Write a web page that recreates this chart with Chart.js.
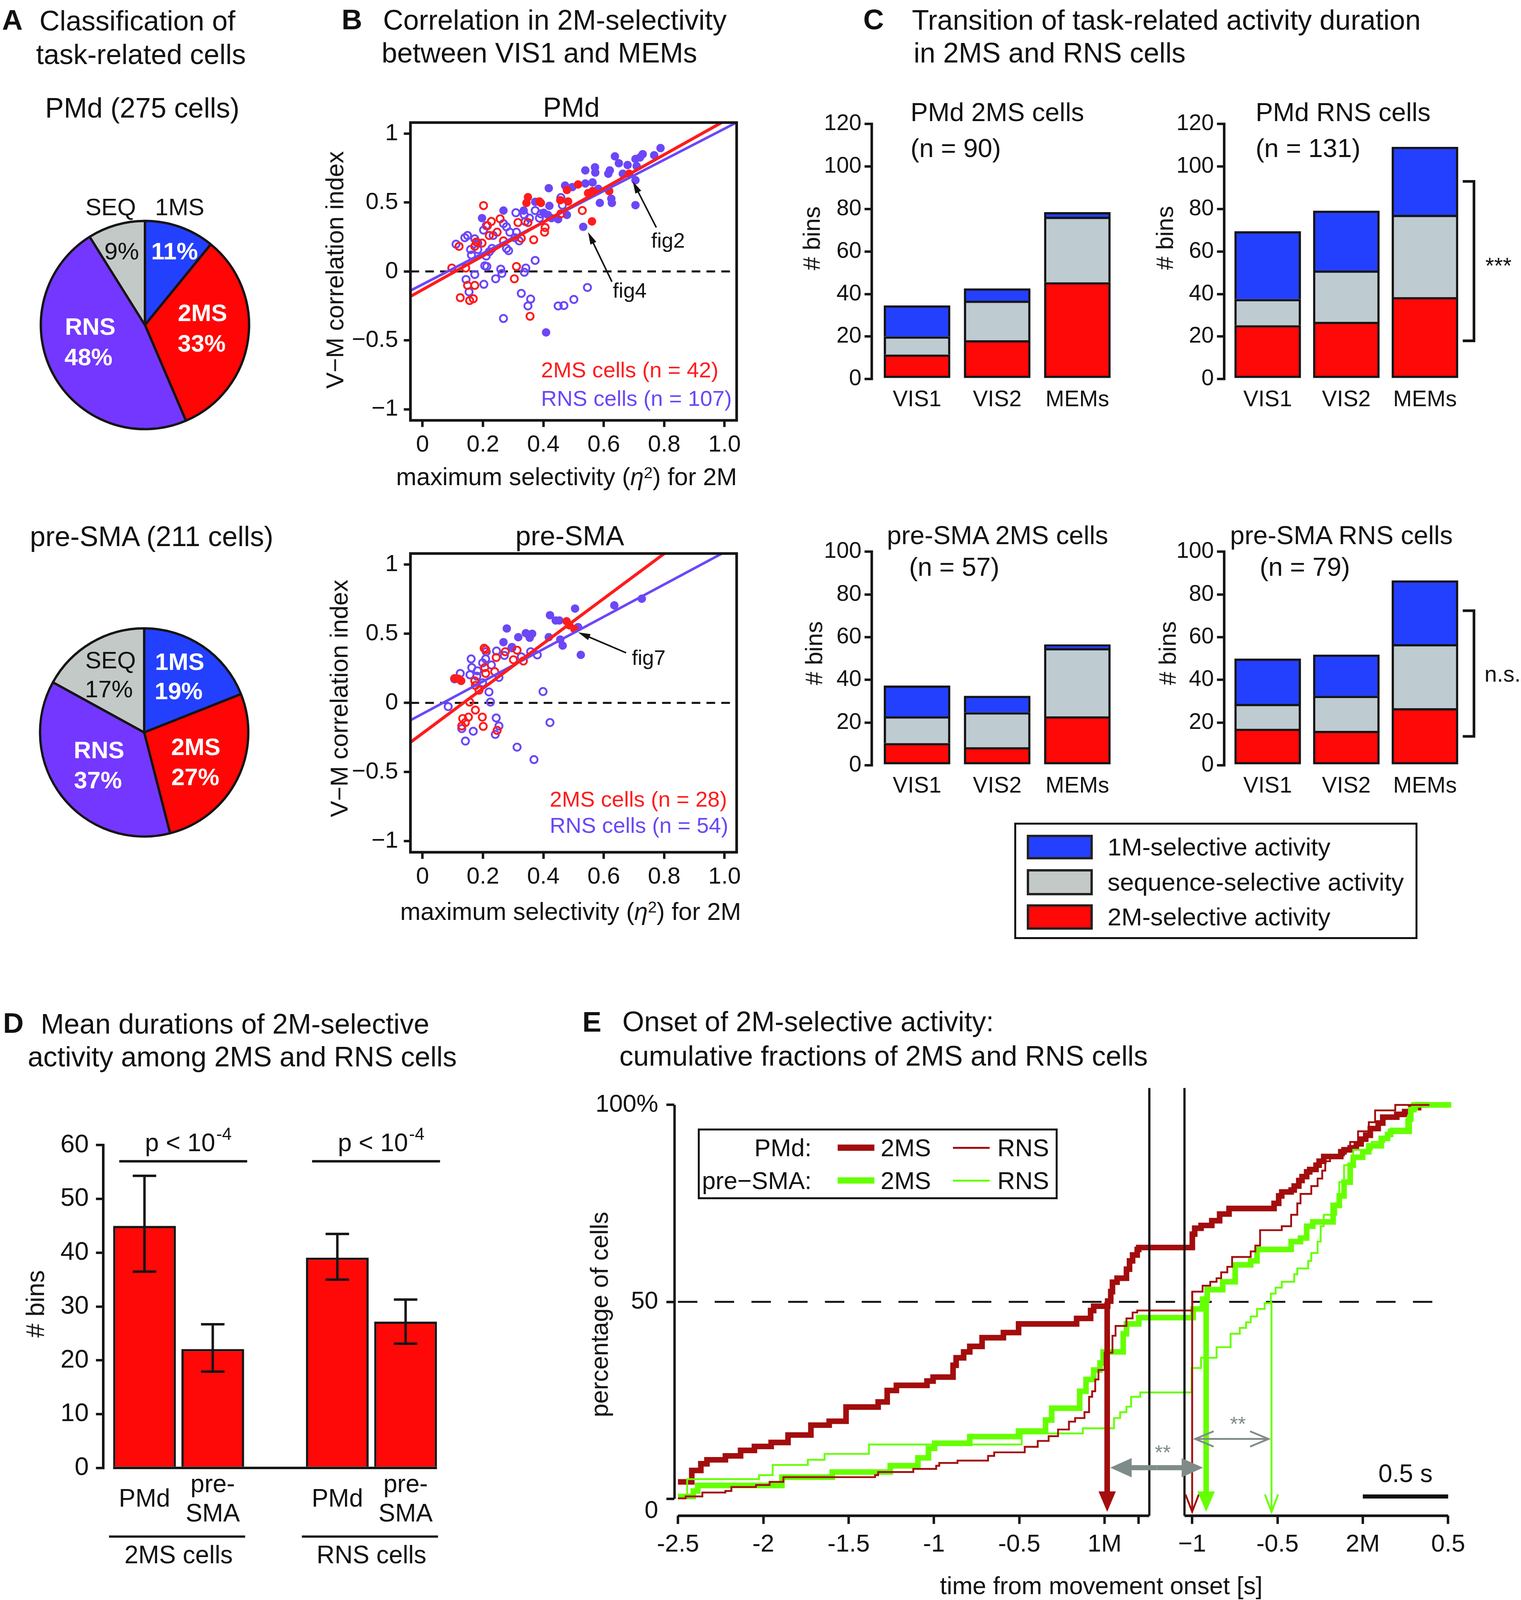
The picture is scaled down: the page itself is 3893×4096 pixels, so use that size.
<!DOCTYPE html>
<html>
<head>
<meta charset="utf-8">
<title>Task-related activity in PMd and pre-SMA</title>
<script src="https://cdn.jsdelivr.net/npm/chart.js@4.4.1/dist/chart.umd.min.js"></script>
<style>
  html, body { margin: 0; padding: 0; background: #fff; }
  #fig { position: relative; width: 3893px; height: 4096px; overflow: hidden; background: #fff;
         font-family: "Liberation Sans", Arial, Helvetica, sans-serif; color: #111; }
  #fig .t { position: absolute; white-space: nowrap; line-height: 1; }
  #fig .sup { position: relative; top: -0.45em; font-size: 0.65em; }
  #fig canvas { position: absolute; }
  #fig .bx { position: absolute; box-sizing: border-box; }
</style>
</head>
<body>
<div id="fig"></div>
<script>
// layout is written in the coordinates of the 1490 px preview; K scales it to the window
const K = 3893 / 1490;
const FONT = '"Liberation Sans", Arial, Helvetica, sans-serif';

// ---------- A: classification of task-related cells (%) ----------
const pieClasses = ['1MS', '2MS', 'RNS', 'SEQ'];
const piePmd = [11, 33, 48, 9];
const piePre = [19, 27, 37, 17];

// ---------- B: V-M correlation index vs max selectivity for 2M, [eta2, index] ----------
const pmd2msSig = [[0.684,0.709],[0.515,0.631],[0.478,0.591],[0.548,0.568],[0.563,0.583],[0.618,0.583],[0.482,0.508],
  [0.456,0.517],[0.349,0.539],[0.344,0.497],[0.387,0.508],[0.392,0.497],[0.561,0.363]];
const pmd2msOpen = [[0.202,0.478],[0.257,0.382],[0.228,0.363],[0.215,0.332],[0.316,0.355],[0.349,0.355],[0.247,0.285],
  [0.221,0.261],[0.197,0.206],[0.173,0.182],[0.121,0.182],[0.268,0.222],[0.327,0.241],[0.368,0.230],[0.404,0.285],
  [0.406,0.319],[0.458,0.418],[0.529,0.442],[0.097,0.025],[0.143,0.025],[0.311,0.036],[0.304,-0.053],[0.149,-0.101],
  [0.173,-0.101],[0.125,-0.190],[0.156,-0.211],[0.168,-0.198],[0.356,-0.325],[0.178,0.214]];
const pmdRnsSig = [[0.788,0.895],[0.767,0.843],[0.729,0.851],[0.720,0.827],[0.705,0.816],[0.637,0.835],[0.650,0.785],
  [0.679,0.772],[0.709,0.764],[0.620,0.733],[0.615,0.709],[0.571,0.756],[0.572,0.717],[0.539,0.733],[0.663,0.709],
  [0.705,0.662],[0.563,0.646],[0.539,0.638],[0.472,0.623],[0.496,0.612],[0.418,0.604],[0.582,0.599],[0.587,0.497],
  [0.625,0.528],[0.627,0.497],[0.705,0.481],[0.373,0.505],[0.420,0.476],[0.268,0.442],[0.335,0.442],[0.401,0.426],
  [0.415,0.410],[0.197,0.387],[0.449,0.379],[0.478,0.410],[0.427,0.387],[0.532,0.324],[0.409,-0.442]];
const pmdRnsOpen = [[0.111,0.198],[0.140,0.245],[0.149,0.261],[0.173,0.237],[0.183,0.206],[0.159,0.159],[0.162,0.119],
  [0.202,0.300],[0.211,0.332],[0.230,0.167],[0.211,0.112],[0.206,0.041],[0.213,0.036],[0.173,-0.022],[0.144,-0.058],
  [0.203,-0.093],[0.154,-0.148],[0.259,0.017],[0.263,-0.014],[0.242,-0.053],[0.278,0.167],[0.285,0.151],[0.268,0.347],
  [0.278,0.324],[0.289,0.285],[0.311,0.285],[0.309,0.426],[0.337,0.410],[0.354,0.387],[0.340,0.363],[0.373,0.442],
  [0.392,0.418],[0.387,0.387],[0.342,0.025],[0.337,-0.006],[0.373,0.080],[0.327,-0.159],[0.358,-0.200],[0.349,-0.250],
  [0.449,-0.250],[0.468,-0.247],[0.501,-0.203],[0.546,-0.116],[0.268,-0.341],[0.458,0.536],[0.463,0.481],[0.306,0.245],
  [0.234,0.261],[0.183,0.159],[0.221,0.143],[0.320,0.222]];
const pre2msSig = [[0.477,0.590],[0.486,0.561],[0.503,0.534],[0.106,0.178],[0.119,0.174],[0.128,0.159]];
const pre2msOpen = [[0.204,0.395],[0.244,0.328],[0.274,0.370],[0.313,0.381],[0.301,0.312],[0.334,0.303],[0.206,0.255],
  [0.209,0.213],[0.239,0.226],[0.173,0.159],[0.175,0.126],[0.187,0.092],[0.156,0.006],[0.175,-0.052],[0.152,-0.103],
  [0.133,-0.113],[0.142,-0.142],[0.130,-0.167],[0.198,-0.103],[0.201,-0.170],[0.247,-0.199],[0.209,0.385]];
const preRnsSig = [[0.726,0.753],[0.635,0.705],[0.505,0.682],[0.422,0.634],[0.441,0.596],[0.453,0.596],[0.515,0.548],
  [0.342,0.504],[0.363,0.500],[0.355,0.471],[0.279,0.538],[0.317,0.475],[0.418,0.475],[0.456,0.458],[0.464,0.414],
  [0.268,0.439],[0.524,0.347],[0.296,0.404]];
const preRnsOpen = [[0.125,0.213],[0.161,0.318],[0.163,0.255],[0.157,0.203],[0.180,0.193],[0.199,0.289],[0.209,0.318],
  [0.211,0.370],[0.228,0.274],[0.245,0.375],[0.271,0.343],[0.296,0.398],[0.327,0.333],[0.358,0.370],[0.380,0.347],
  [0.253,0.184],[0.220,0.079],[0.225,0.006],[0.199,0.146],[0.085,-0.027],[0.399,0.082],[0.244,-0.109],[0.253,-0.167],
  [0.241,-0.228],[0.130,-0.186],[0.168,-0.205],[0.142,-0.276],[0.313,-0.320],[0.369,-0.410],[0.422,-0.142],[0.182,0.232],
  [0.106,0.174]];
// regression lines, end points at the x limits
const pmdFit2ms = [[-0.04,-0.181],[1.04,1.141]];
const pmdFitRns = [[-0.04,-0.139],[1.04,1.081]];
const preFit2ms = [[-0.04,-0.285],[1.04,1.469]];
const preFitRns = [[-0.04,-0.126],[1.04,1.137]];
const pmdNotes = [{label:'fig2', at:[0.813,0.214], from:[0.774,0.319], to:[0.696,0.654]},
                  {label:'fig4', at:[0.686,-0.148], from:[0.627,-0.074], to:[0.548,0.285]}];
const preNotes = [{label:'fig7', at:[0.749,0.318], from:[0.674,0.362], to:[0.515,0.510]}];
const bTicksX = [0, 0.2, 0.4, 0.6, 0.8, 1.0];
const bTickLabelsX = ['0', '0.2', '0.4', '0.6', '0.8', '1.0'];
const bTicksY = [-1, -0.5, 0, 0.5, 1];
const bTickLabelsY = ['\u22121', '\u22120.5', '0', '0.5', '1'];

// ---------- C: task-related activity duration (# bins) ----------
const cPhases = ['VIS1', 'VIS2', 'MEMs'];
const cPmd2msRed = [11.5, 18.2, 45.5], cPmd2msGray = [8.5, 18.6, 30.8], cPmd2msBlue = [14.6, 5.8, 2.2];
const cPmdRnsRed = [25.3, 26.9, 38.5], cPmdRnsGray = [12.3, 24.1, 38.7], cPmdRnsBlue = [31.9, 28.2, 32.0];
const cPre2msRed = [10.4, 8.5, 22.9], cPre2msGray = [12.5, 16.3, 31.9], cPre2msBlue = [14.4, 7.7, 1.8];
const cPreRnsRed = [17.1, 16.1, 26.7], cPreRnsGray = [11.6, 16.4, 30.0], cPreRnsBlue = [21.2, 19.3, 29.8];
const cBracketPmd = [18, 93], cBracketPre = [13.6, 72.4];
const cTicksTop = [0, 20, 40, 60, 80, 100, 120];
const cTicksBottom = [0, 20, 40, 60, 80, 100];
const cLegend = ['1M-selective activity', 'sequence-selective activity', '2M-selective activity'];

// ---------- D: mean durations of 2M-selective activity ----------
const dGroups = ['2MS cells', 'RNS cells'];
const dAreaLines = [['PMd'], ['pre-', 'SMA']];
const dPmdMean = [45.0, 39.1];
const dPreMean = [22.1, 27.2];
const dPmdErr = [[36.5, 54.3], [35.0, 43.5]];
const dPreErr = [[17.9, 26.7], [23.1, 31.3]];
const dTicks = [0, 10, 20, 30, 40, 50, 60];
const dSigText = ['p < 10', '-4'];

// ---------- E: onset of 2M-selective activity, cumulative % of cells ----------
// [time, % reached at that time]; seg1 times from 1M onset, seg2 times from 2M onset
const pmd2msSeg1 = [[-2.5,4.3],[-2.419,7.2],[-2.366,8.9],[-2.33,9.9],[-2.222,10.9],[-2.133,12.3],[-2.052,13.3],[-1.954,14.3],
  [-1.855,16.2],[-1.721,18.7],[-1.614,19.7],[-1.515,23.3],[-1.327,24.6],[-1.274,27.5],[-1.22,28.8],[-1.041,29.9],
  [-1.005,30.9],[-0.888,33.9],[-0.87,35.8],[-0.826,37.3],[-0.79,38.7],[-0.718,40.9],[-0.593,42.2],[-0.504,44.4],
  [-0.164,45.8],[-0.082,47.8],[-0.064,48.9],[0.018,50.2],[0.036,52.6],[0.046,55.0],[0.073,56.0],[0.128,58.3],
  [0.146,60.4],[0.164,61.9],[0.191,63.3],[0.2,63.8]];
const pmd2msSeg2 = [[-0.999,67.2],[-0.985,68.7],[-0.948,69.4],[-0.885,70.6],[-0.839,72.3],[-0.784,73.7],[-0.52,75.0],
  [-0.493,76.9],[-0.475,77.9],[-0.42,78.4],[-0.402,79.4],[-0.375,80.8],[-0.356,81.8],[-0.329,83.0],[-0.311,83.6],
  [-0.274,84.7],[-0.256,85.7],[-0.229,86.9],[-0.129,88.1],[-0.11,88.6],[-0.074,89.1],[-0.038,90.1],[-0.01,91.3],
  [0.017,92.3],[0.044,94.0],[0.09,95.4],[0.117,96.9],[0.199,97.6],[0.245,98.3],[0.281,99.3],[0.327,100],[0.39,100]];
const pmdRnsSeg1 = [[-2.5,0.1],[-2.455,0.6],[-2.357,1.6],[-2.222,2.0],[-2.187,3.0],[-2.043,3.5],[-1.963,4.3],[-1.882,5.5],
  [-1.345,6.0],[-1.327,6.8],[-1.121,7.6],[-0.987,8.4],[-0.969,9.1],[-0.862,9.7],[-0.683,10.9],[-0.647,11.8],
  [-0.468,13.2],[-0.392,14.7],[-0.328,15.9],[-0.273,17.6],[-0.209,19.6],[-0.173,20.5],[-0.118,22.0],[-0.091,25.9],
  [-0.073,27.3],[-0.055,30.3],[-0.036,32.7],[0.0,37.1],[0.046,41.4],[0.064,43.9],[0.128,45.8],[0.164,47.3],[0.191,47.8]];
const pmdRnsSeg2 = [[-0.999,52.6],[-0.939,54.1],[-0.894,55.1],[-0.857,56.0],[-0.83,57.5],[-0.794,58.9],[-0.766,61.4],
  [-0.657,62.8],[-0.63,64.3],[-0.602,68.2],[-0.475,69.2],[-0.42,72.1],[-0.384,75.0],[-0.365,77.4],[-0.302,79.4],
  [-0.265,81.3],[-0.238,83.3],[-0.22,85.7],[-0.192,87.2],[-0.11,88.6],[-0.074,90.6],[-0.028,93.3],[0.035,95.6],
  [0.072,98.6],[0.19,100],[0.39,100]];
const pre2msSeg1 = [[-2.5,0.6],[-2.41,2.0],[-2.384,3.4],[-1.891,5.5],[-1.596,6.8],[-1.256,8.4],[-1.094,10.4],[-1.032,12.8],
  [-0.996,14.1],[-0.79,15.8],[-0.504,17.2],[-0.346,20.0],[-0.31,23.0],[-0.146,27.3],[-0.109,30.3],[-0.064,32.7],
  [-0.027,34.5],[-0.009,37.3],[0.109,41.9],[0.128,44.4],[0.2,46.0]];
const pre2msSeg2 = [[-0.994,48.2],[-0.939,50.7],[-0.912,53.1],[-0.821,55.1],[-0.748,59.4],[-0.657,60.4],[-0.62,63.3],
  [-0.42,65.3],[-0.365,66.2],[-0.329,69.2],[-0.293,70.3],[-0.174,74.5],[-0.138,76.9],[-0.11,80.4],[-0.074,84.7],
  [-0.056,86.7],[-0.001,88.1],[0.035,89.6],[0.108,91.5],[0.145,92.5],[0.163,93.3],[0.272,96.4],[0.281,98.8],
  [0.299,100],[0.518,100]];
const preRnsSeg1 = [[-2.5,0.9],[-2.446,5.0],[-2.025,6.0],[-1.945,8.6],[-1.739,9.9],[-1.641,11.4],[-1.381,13.8],
  [-0.486,16.6],[-0.128,17.9],[0.055,20.5],[0.091,22.0],[0.128,23.4],[0.155,25.9],[0.209,27.0]];
const preRnsSeg2 = [[-1.003,33.2],[-0.948,35.8],[-0.857,38.5],[-0.775,41.9],[-0.721,43.4],[-0.684,44.8],[-0.657,46.3],
  [-0.62,48.2],[-0.575,49.7],[-0.539,52.1],[-0.511,53.6],[-0.475,55.1],[-0.402,57.0],[-0.384,58.5],[-0.32,60.4],
  [-0.302,62.4],[-0.265,65.3],[-0.247,69.2],[-0.229,72.1],[-0.156,75.0],[-0.138,80.4],[-0.11,84.7],[-0.056,88.6],
  [0.053,90.6],[0.126,92.0],[0.163,94.0],[0.254,96.4],[0.281,98.8],[0.318,100],[0.518,100]];
// time where each curve reaches 50 % (PMd 2MS, PMd RNS, pre-SMA 2MS, pre-SMA RNS)
const eMedianSeg = [1, 2, 2, 2];
const eMedianT = [0.015, -1.0, -0.918, -0.535];
const eMedianFrom = [50, 52.6, 50, 50];
const eTicksSeg1 = [-2.5, -2, -1.5, -1, -0.5, 0, 0.2];
const eTickLabelsSeg1 = ['-2.5', '-2', '-1.5', '-1', '-0.5', '1M', ''];
const eTicksSeg2 = [-1, -0.5, 0, 0.5];
const eTickLabelsSeg2 = ['\u22121', '-0.5', '2M', '0.5'];
const eYTicks = [0, 50, 100];
const eYLabels = [['', '0'], '50', '100%'];
const eBreak = [0.262, -1.045];   // end of the 1M axis, start of the 2M axis

// ---------- styles ----------
const PBLUE = '#2440FF', PRED = '#FF0505', PPURPLE = '#7437FF', PGRAY = '#C2C9C7';
const SRED = '#FF1C1C', SPURPLE = '#6B47F7';
const CBLUE = '#2440FF', CGRAY = '#BECBD1', CRED = '#FF0808', LGRAY = '#C2C9C6';
const DRED = '#A30D0D', GREEN = '#66FF00', GRAYA = '#7F8B89', INK = '#151515';
const SEG2_SHIFT = 1.513;

const fig = document.getElementById('fig');
Chart.defaults.font.family = FONT;
Chart.defaults.color = '#111';
Chart.defaults.plugins.legend.display = false;
Chart.defaults.plugins.tooltip.enabled = false;

function txt(x, y, html, size, o) {
  o = o || {};
  const d = document.createElement('div');
  d.className = 't';
  d.innerHTML = html;
  d.style.left = (x * K) + 'px';
  d.style.top = (y * K) + 'px';
  d.style.fontSize = (size * K) + 'px';
  if (o.bold) d.style.fontWeight = 'bold';
  if (o.color) d.style.color = o.color;
  const tx = o.align === 'center' ? '-50%' : (o.align === 'right' ? '-100%' : '0');
  d.style.transform = 'translate(' + tx + ',-50%)' + (o.rot ? ' rotate(' + o.rot + 'deg)' : '');
  fig.appendChild(d);
}
function block(x, y, w, h, css) {
  const d = document.createElement('div');
  d.className = 'bx';
  d.style.left = (x * K) + 'px'; d.style.top = (y * K) + 'px';
  d.style.width = (w * K) + 'px'; d.style.height = (h * K) + 'px';
  Object.assign(d.style, css || {});
  fig.appendChild(d);
}
function makeChart(box, cfg) {
  const c = document.createElement('canvas');
  c.width = Math.round((box[2] - box[0]) * K);
  c.height = Math.round((box[3] - box[1]) * K);
  c.style.left = (box[0] * K) + 'px';
  c.style.top = (box[1] * K) + 'px';
  c.style.width = c.width + 'px';
  c.style.height = c.height + 'px';
  fig.appendChild(c);
  cfg.options = Object.assign({responsive: false, animation: false, devicePixelRatio: 1, events: []}, cfg.options);
  return new Chart(c, cfg);
}
// pin the chart area to ar (preview coords) inside the canvas box
function fitArea(o, box, ar) {
  const l = (ar[0] - box[0]) * K, t = (ar[1] - box[1]) * K;
  const r = (box[2] - ar[2]) * K, b = (box[3] - ar[3]) * K;
  o.layout = {padding: {left: 0, top: t, right: r, bottom: 0}};
  o.scales.x.afterFit = s => { s.height = b; s.paddingLeft = 0; s.paddingRight = 0; };
  o.scales.y.afterFit = s => { s.width = l; s.paddingTop = 0; s.paddingBottom = 0; };
  return o;
}
function axis(min, max, vals, labels, size, pad, tick) {
  return {
    type: 'linear', min: min, max: max, offset: false,
    afterBuildTicks: s => { s.ticks = vals.map(v => ({value: v})); },
    ticks: {autoSkip: false, maxRotation: 0, minRotation: 0, padding: pad * K, color: '#111',
            font: {size: size * K}, callback: (v, i) => labels[i]},
    grid: {display: tick > 0, offset: false, drawOnChartArea: false, drawTicks: tick > 0, tickLength: tick * K,
           lineWidth: 2.4 * K, tickWidth: 2.4 * K, color: INK, tickColor: INK},
    border: {display: false}
  };
}
function line(ctx, x0, y0, x1, y1, w) {
  ctx.lineWidth = w; ctx.beginPath(); ctx.moveTo(x0, y0); ctx.lineTo(x1, y1); ctx.stroke();
}
function arrow(ctx, x0, y0, x1, y1, lw, hl, hw, filled, color) {
  const ang = Math.atan2(y1 - y0, x1 - x0);
  const bx = x1 - hl * Math.cos(ang), by = y1 - hl * Math.sin(ang);
  const px = -Math.sin(ang) * hw, py = Math.cos(ang) * hw;
  ctx.save();
  ctx.strokeStyle = color; ctx.fillStyle = color; ctx.setLineDash([]); ctx.lineCap = 'butt';
  if (filled) {
    line(ctx, x0, y0, bx + (x1 - bx) * 0.3, by + (y1 - by) * 0.3, lw);
    ctx.beginPath(); ctx.moveTo(x1, y1); ctx.lineTo(bx + px, by + py); ctx.lineTo(bx - px, by - py); ctx.closePath(); ctx.fill();
  } else {
    line(ctx, x0, y0, x1, y1, lw);
    ctx.beginPath(); ctx.moveTo(bx + px, by + py); ctx.lineTo(x1, y1); ctx.lineTo(bx - px, by - py); ctx.stroke();
  }
  ctx.restore();
}

// ---------- A: pies ----------
function piePanel(box, values) {
  return makeChart(box, {
    type: 'pie',
    data: {labels: pieClasses, datasets: [{data: values, backgroundColor: [PBLUE, PRED, PPURPLE, PGRAY],
      borderColor: INK, borderWidth: 2.3 * K}]},
    options: {radius: 102 * K, layout: {padding: 0}}
  });
}
const pieA1 = [142, 318.6], pieA2 = [141.3, 717.8];
piePanel([pieA1[0] - 108, pieA1[1] - 108, pieA1[0] + 108, pieA1[1] + 108], piePmd);
piePanel([pieA2[0] - 108, pieA2[1] - 108, pieA2[0] + 108, pieA2[1] + 108], piePre);

// ---------- B: scatter plots ----------
function bDeco(notes) {
  return {
    id: 'bDeco',
    beforeDatasetsDraw(chart) {
      const {ctx, chartArea: a, scales: {y}} = chart;
      const y0 = y.getPixelForValue(0);
      ctx.save(); ctx.strokeStyle = INK; ctx.setLineDash([8.5 * K, 6 * K]);
      line(ctx, a.left, y0, a.right, y0, 2 * K);
      ctx.restore();
    },
    afterDatasetsDraw(chart) {
      const {ctx, chartArea: a, scales: {x, y}} = chart;
      ctx.save();
      ctx.strokeStyle = INK; ctx.lineWidth = 2.6 * K;
      ctx.strokeRect(a.left, a.top, a.right - a.left, a.bottom - a.top);
      ctx.fillStyle = '#111'; ctx.font = (20.5 * K) + 'px ' + FONT;
      ctx.textAlign = 'center'; ctx.textBaseline = 'middle';
      notes.forEach(n => {
        ctx.fillText(n.label, x.getPixelForValue(n.at[0]), y.getPixelForValue(n.at[1]));
        arrow(ctx, x.getPixelForValue(n.from[0]), y.getPixelForValue(n.from[1]),
              x.getPixelForValue(n.to[0]), y.getPixelForValue(n.to[1]), 1.5 * K, 12 * K, 3.2 * K, true, '#111');
      });
      ctx.restore();
    }
  };
}
function pts(a) { return a.map(p => ({x: p[0], y: p[1]})); }
function scatterPanel(box, ar, s2Sig, s2Open, rSig, rOpen, fit2, fitR, notes) {
  const open = c => ({pointRadius: 3.5 * K, pointBorderWidth: 1.8 * K, pointBackgroundColor: 'rgba(0,0,0,0)', pointBorderColor: c});
  const full = c => ({pointRadius: 4.1 * K, pointBorderWidth: 0, pointBackgroundColor: c, pointBorderColor: c});
  const o = {scales: {x: axis(-0.04, 1.04, bTicksX, bTickLabelsX, 23, 4, 6.5),
                      y: axis(-1.08, 1.08, bTicksY, bTickLabelsY, 23, 5.5, 6.5)}};
  return makeChart(box, {
    type: 'scatter',
    data: {datasets: [
      {data: pts(fit2), showLine: true, borderColor: SRED, borderWidth: 3 * K, pointRadius: 0},
      {data: pts(fitR), showLine: true, borderColor: SPURPLE, borderWidth: 2.5 * K, pointRadius: 0},
      Object.assign({data: pts(s2Sig)}, full(SRED)),
      Object.assign({data: pts(s2Open)}, open(SRED)),
      Object.assign({data: pts(rSig)}, full(SPURPLE)),
      Object.assign({data: pts(rOpen)}, open(SPURPLE))
    ]},
    options: fitArea(o, box, ar),
    plugins: [bDeco(notes)]
  });
}
scatterPanel([340, 100, 740, 455], [402.2, 120.2, 721.8, 411.8],
  pmd2msSig, pmd2msOpen, pmdRnsSig, pmdRnsOpen, pmdFit2ms, pmdFitRns, pmdNotes);
scatterPanel([340, 520, 740, 877], [402.2, 542.2, 721.8, 834.8],
  pre2msSig, pre2msOpen, preRnsSig, preRnsOpen, preFit2ms, preFitRns, preNotes);

// ---------- C: stacked bars ----------
function cDeco(range, label, dx, dy) {
  return {
    id: 'cDeco',
    afterDatasetsDraw(chart) {
      if (!range) return;
      const {ctx, scales: {y}} = chart;
      const bar = chart.getDatasetMeta(0).data[2];
      const x0 = bar.x + bar.width / 2 + 4.5 * K, x1 = x0 + 11 * K;
      const yl = y.getPixelForValue(range[0]), yh = y.getPixelForValue(range[1]);
      ctx.save(); ctx.strokeStyle = INK; ctx.lineWidth = 2.6 * K;
      ctx.beginPath(); ctx.moveTo(x0, yh); ctx.lineTo(x1, yh); ctx.lineTo(x1, yl); ctx.lineTo(x0, yl); ctx.stroke();
      ctx.fillStyle = '#111'; ctx.font = (22 * K) + 'px ' + FONT; ctx.textAlign = 'center'; ctx.textBaseline = 'middle';
      ctx.fillText(label, x1 + dx * K, (yl + yh) / 2 + dy * K);
      ctx.restore();
    }
  };
}
function stackPanel(box, ar, xr, yMax, ticks, red, gray, blue, bracket, label, dx, dy) {
  const seg = (vals, color, first) => ({
    data: vals.map((v, i) => ({x: i + 1, y: v})), backgroundColor: color, borderColor: INK,
    borderWidth: 2.2 * K, borderSkipped: first ? false : 'start', barThickness: 65 * K
  });
  const yAx = axis(0, yMax, ticks, ticks.map(String), 22, 3, 7);
  yAx.stacked = true;
  yAx.border = {display: true, color: INK, width: 2.5 * K};
  const xAx = axis(xr[0], xr[1], [1, 2, 3], cPhases, 22, 7.2, 0);
  xAx.stacked = true;
  const o = {scales: {x: xAx, y: yAx}};
  return makeChart(box, {
    type: 'bar',
    data: {datasets: [seg(red, CRED, true), seg(gray, CGRAY, false), seg(blue, CBLUE, false)]},
    options: fitArea(o, box, ar),
    plugins: [cDeco(bracket, label, dx, dy)]
  });
}
const cLeftX = [0.434, 3.491], cRightX = [0.446, 3.533];
stackPanel([800, 100, 1110, 412], [854, 121.6, 1094, 371.6], cLeftX, 120, cTicksTop,
  cPmd2msRed, cPmd2msGray, cPmd2msBlue, null, '', 0, 0);
stackPanel([1145, 100, 1490, 412], [1199, 121.6, 1437, 371.6], cRightX, 120, cTicksTop,
  cPmdRnsRed, cPmdRnsGray, cPmdRnsBlue, cBracketPmd, '***', 24, 6);
stackPanel([800, 520, 1110, 790], [854, 540.4, 1094, 750], cLeftX, 100, cTicksBottom,
  cPre2msRed, cPre2msGray, cPre2msBlue, null, '', 0, 0);
stackPanel([1145, 520, 1490, 790], [1199, 540.4, 1437, 750], cRightX, 100, cTicksBottom,
  cPreRnsRed, cPreRnsGray, cPreRnsBlue, cBracketPre, 'n.s.', 28, 2);

// ---------- D: grouped bars with error bars ----------
const dDeco = {
  id: 'dDeco',
  afterDatasetsDraw(chart) {
    const {ctx, chartArea: a, scales: {y}} = chart;
    const metas = [chart.getDatasetMeta(0).data, chart.getDatasetMeta(1).data];
    const errs = [dPmdErr, dPreErr];
    ctx.save();
    ctx.strokeStyle = INK; ctx.fillStyle = '#111';
    const first = metas[0][0], last = metas[1][metas[1].length - 1];
    const y0 = y.getPixelForValue(0);
    line(ctx, first.x - first.width / 2, y0, last.x + last.width / 2, y0, 2.4 * K);
    metas.forEach((m, di) => m.forEach((bar, i) => {
      const yl = y.getPixelForValue(errs[di][i][0]), yh = y.getPixelForValue(errs[di][i][1]);
      line(ctx, bar.x, yl, bar.x, yh, 2.4 * K);
      line(ctx, bar.x - 11.5 * K, yl, bar.x + 11.5 * K, yl, 2.4 * K);
      line(ctx, bar.x - 11.5 * K, yh, bar.x + 11.5 * K, yh, 2.4 * K);
    }));
    ctx.textBaseline = 'middle';
    dGroups.forEach((g, gi) => {
      const b0 = metas[0][gi], b1 = metas[1][gi];
      const gl = b0.x - b0.width / 2, gr = b1.x + b1.width / 2, gc = (gl + gr) / 2;
      const yp = y.getPixelForValue(57);
      line(ctx, gl + 6 * K, yp, gr + 3 * K, yp, 2.4 * K);
      ctx.font = (24.5 * K) + 'px ' + FONT;
      const w1 = ctx.measureText(dSigText[0]).width;
      ctx.font = (17 * K) + 'px ' + FONT;
      const w2 = ctx.measureText(dSigText[1]).width;
      const sx = gc + 9 * K - (w1 + w2) / 2, ty = y.getPixelForValue(60.2);
      ctx.textAlign = 'left';
      ctx.font = (24.5 * K) + 'px ' + FONT; ctx.fillText(dSigText[0], sx, ty);
      ctx.font = (17 * K) + 'px ' + FONT; ctx.fillText(dSigText[1], sx + w1 + 1 * K, ty - 9 * K);
      ctx.textAlign = 'center';
      ctx.font = (24.5 * K) + 'px ' + FONT;
      [b0, b1].forEach((b, k) => {
        const ls = dAreaLines[k];
        ls.forEach((s, j) => ctx.fillText(s, b.x, a.bottom + (31.3 + (j - (ls.length - 1) / 2) * 28.5) * K));
      });
      line(ctx, gl - 4 * K, a.bottom + 67.2 * K, gr + 1 * K, a.bottom + 67.2 * K, 2.2 * K);
      ctx.fillText(g, gc, a.bottom + 86.8 * K);
    });
    ctx.restore();
  }
};
(function () {
  const box = [0, 1090, 460, 1545], ar = [101, 1122, 440, 1438.2];
  const yAx = axis(0, 60, dTicks, dTicks.map(String), 25, 7, 7);
  yAx.border = {display: true, color: INK, width: 2.5 * K};
  const xAx = {type: 'linear', min: 0.6085, max: 2.403, offset: false,
    afterBuildTicks: s => { s.ticks = [{value: 1}, {value: 2}]; },
    ticks: {display: false}, grid: {display: false, offset: false}, border: {display: false}};
  const bar = vals => ({data: vals.map((v, i) => ({x: i + 1, y: v})), backgroundColor: CRED, borderColor: INK,
    borderWidth: 2.2 * K, borderSkipped: 'start', categoryPercentage: 0.708, barPercentage: 0.919});
  makeChart(box, {
    type: 'bar',
    data: {datasets: [bar(dPmdMean), bar(dPreMean)]},
    options: fitArea({scales: {x: xAx, y: yAx}}, box, ar),
    plugins: [dDeco]
  });
})();

// ---------- E: cumulative onset curves ----------
const sx2 = t => t + SEG2_SHIFT;
const eTickVals = eTicksSeg1.concat(eTicksSeg2.map(sx2));
const eTickText = eTickLabelsSeg1.concat(eTickLabelsSeg2);
const eDeco = {
  id: 'eDeco',
  beforeDatasetsDraw(chart) {
    const {ctx, scales: {x, y}} = chart;
    const yy = y.getPixelForValue(50);
    ctx.save(); ctx.strokeStyle = INK; ctx.setLineDash([19 * K, 17 * K]);
    line(ctx, x.getPixelForValue(eTicksSeg1[0]), yy, x.getPixelForValue(sx2(0.5)), yy, 1.9 * K);
    ctx.restore();
  },
  afterDatasetsDraw(chart) {
    const {ctx, chartArea: a, scales: {x, y}} = chart;
    const X = (seg, t) => x.getPixelForValue(seg === 1 ? t : sx2(t));
    ctx.save();
    ctx.strokeStyle = INK; ctx.lineCap = 'butt';
    line(ctx, a.left, y.getPixelForValue(0), a.left, y.getPixelForValue(100), 2.4 * K);
    line(ctx, X(1, eTicksSeg1[0]), a.bottom, X(1, eBreak[0]), a.bottom, 2.6 * K);
    line(ctx, X(2, eBreak[1]), a.bottom, X(2, 0.5), a.bottom, 2.6 * K);
    line(ctx, X(1, eBreak[0]), a.top, X(1, eBreak[0]), a.bottom, 2.2 * K);
    line(ctx, X(2, eBreak[1]), a.top, X(2, eBreak[1]), a.bottom, 2.2 * K);
    const tipY = y.getPixelForValue(-3.3);
    const colors = [DRED, DRED, GREEN, GREEN], thick = [true, false, true, false];
    const ax = eMedianT.map((t, i) => X(eMedianSeg[i], t));
    ax.forEach((px, i) => {
      const y0 = y.getPixelForValue(eMedianFrom[i]);
      if (thick[i]) arrow(ctx, px, y0, px, tipY, 5.5 * K, 20 * K, 8.5 * K, true, colors[i]);
      else arrow(ctx, px, y0, px, tipY, 1.8 * K, 17 * K, 6.5 * K, false, colors[i]);
    });
    const pairs = [{a: 0, b: 2, y: 7.9, ly: 12.7, thick: true}, {a: 1, b: 3, y: 15.2, ly: 20, thick: false}];
    pairs.forEach(p => {
      const x0 = ax[p.a] + 3 * K, x1 = ax[p.b] - 3 * K, yy = y.getPixelForValue(p.y), mid = (x0 + x1) / 2;
      if (p.thick) {
        arrow(ctx, mid, yy, x0, yy, 5 * K, 21 * K, 9.4 * K, true, GRAYA);
        arrow(ctx, mid, yy, x1, yy, 5 * K, 21 * K, 9.4 * K, true, GRAYA);
      } else {
        arrow(ctx, mid, yy, x0, yy, 1.8 * K, 18 * K, 7.5 * K, false, GRAYA);
        arrow(ctx, mid, yy, x1, yy, 1.8 * K, 18 * K, 7.5 * K, false, GRAYA);
      }
      ctx.fillStyle = GRAYA; ctx.font = (20 * K) + 'px ' + FONT; ctx.textAlign = 'center'; ctx.textBaseline = 'middle';
      ctx.fillText('**', mid + 6 * K, y.getPixelForValue(p.ly) + 5 * K);
    });
    // 0.5 s scale bar
    const yb = y.getPixelForValue(0.6);
    ctx.strokeStyle = '#111';
    line(ctx, X(2, 0), yb, X(2, 0.5), yb, 4 * K);
    ctx.fillStyle = '#111'; ctx.font = (24.5 * K) + 'px ' + FONT; ctx.textAlign = 'center'; ctx.textBaseline = 'middle';
    ctx.fillText('0.5 s', (X(2, 0) + X(2, 0.5)) / 2, yb - 20.8 * K);
    ctx.restore();
  }
};
(function () {
  const box = [570, 1040, 1450, 1540], ar = [660.9, 1066.1, 1422.5, 1485.4];
  const xAx = axis(-2.52, 2.035, eTickVals, eTickText, 24, 5.9, 8);
  const yAx = axis(-4.3, 104.3, eYTicks, eYLabels, 24, 8, 8);
  yAx.ticks.font.lineHeight = 1;
  const curve = (s1, s2, color, w) => ({
    data: s1.map(p => ({x: p[0], y: p[1]})).concat(s2.map(p => ({x: sx2(p[0]), y: p[1]}))),
    showLine: true, stepped: true, pointRadius: 0, borderColor: color, borderWidth: w * K,
    borderCapStyle: 'butt', borderJoinStyle: 'miter', fill: false
  });
  makeChart(box, {
    type: 'scatter',
    data: {datasets: [
      curve(pmdRnsSeg1, pmdRnsSeg2, DRED, 1.8),
      curve(preRnsSeg1, preRnsSeg2, GREEN, 1.8),
      curve(pre2msSeg1, pre2msSeg2, GREEN, 5.5),
      curve(pmd2msSeg1, pmd2msSeg2, DRED, 5.5)
    ]},
    options: fitArea({scales: {x: xAx, y: yAx}}, box, ar),
    plugins: [eDeco]
  });
})();

// ---------- text ----------
const T = 27.4;
txt(2, 20, 'A', 28, {bold: true});
txt(38.7, 20.5, 'Classification of', T);
txt(35.3, 53.5, 'task-related cells', T);
txt(139.4, 106, 'PMd (275 cells)', T, {align: 'center'});
txt(148.5, 526, 'pre-SMA (211 cells)', T, {align: 'center'});
[[pieA1, [[-33.6,-115.6,'SEQ',0],[34,-115.6,'1MS',0],[-22.8,-72.5,'9%',0],[29,-72.6,'11%',1],[56.4,-12,'2MS',1],
          [55.6,17.9,'33%',1],[-53.6,1.3,'RNS',1],[-55.3,31.2,'48%',1]]],
 [pieA2, [[-33,-71,'SEQ',0],[-34.6,-42.8,'17%',0],[34.7,-69.5,'1MS',1],[33.7,-40.8,'19%',1],[50.5,14.1,'2MS',1],
          [50,43.5,'27%',1],[-44.3,17.1,'RNS',1],[-45.4,46.5,'37%',1]]]].forEach(([c, labs]) => {
  labs.forEach(l => txt(c[0] + l[0], c[1] + l[1], l[2], 23.5,
    {align: 'center', bold: !!l[3], color: l[3] ? '#fff' : '#111'}));
});

txt(334.6, 19.5, 'B', 28, {bold: true});
txt(375.3, 20, 'Correlation in 2M-selectivity', T);
txt(373.8, 52, 'between VIS1 and MEMs', T);
txt(559.7, 105.3, 'PMd', 27, {align: 'center'});
txt(558.2, 525.2, 'pre-SMA', 27, {align: 'center'});
txt(328, 264.3, 'V\u2212M correlation index', 24, {align: 'center', rot: -90});
txt(332.3, 684.5, 'V\u2212M correlation index', 24, {align: 'center', rot: -90});
const etaLabel = 'maximum selectivity (<i>\u03B7</i><span class="sup">2</span>) for 2M';
txt(555, 467, etaLabel, 24, {align: 'center'});
txt(559, 892.8, etaLabel, 24, {align: 'center'});
txt(530, 362.5, '2MS cells (n = 42)', 21.5, {color: SRED});
txt(530, 390.5, 'RNS cells (n = 107)', 21.5, {color: SPURPLE});
txt(538.5, 783.2, '2MS cells (n = 28)', 21.5, {color: SRED});
txt(538.5, 808.9, 'RNS cells (n = 54)', 21.5, {color: SPURPLE});

txt(845.7, 19.5, 'C', 28, {bold: true});
txt(893.3, 20, 'Transition of task-related activity duration', T);
txt(895, 52, 'in 2MS and RNS cells', T);
txt(892, 110, 'PMd 2MS cells', 25.5); txt(892, 145, '(n = 90)', 25.5);
txt(1230, 110, 'PMd RNS cells', 25.5); txt(1230, 145, '(n = 131)', 25.5);
txt(868.8, 524.2, 'pre-SMA 2MS cells', 25.5); txt(890.5, 555.2, '(n = 57)', 25.5);
txt(1205, 524.2, 'pre-SMA RNS cells', 25.5); txt(1234, 555.2, '(n = 79)', 25.5);
[[795, 233.5], [1141, 233], [797.2, 640], [1143.6, 640]].forEach(p => txt(p[0], p[1], '# bins', 23.5, {align: 'center', rot: -90}));
block(993.5, 805.9, 395, 114.1, {border: (2.2 * K) + 'px solid #111'});
[[818, 24, CBLUE], [851.7, 25.6, LGRAY], [886, 25, CRED]].forEach((r, i) => {
  block(1006, r[0], 64.6, r[1], {background: r[2], border: (2.6 * K) + 'px solid #222'});
  txt(1085, r[0] + r[1] / 2, cLegend[i], 24.4);
});

txt(3, 1002.8, 'D', 28, {bold: true});
txt(39.9, 1003.7, 'Mean durations of 2M-selective', T);
txt(27.2, 1035.8, 'activity among 2MS and RNS cells', T);
txt(34.8, 1277.6, '# bins', 24.8, {align: 'center', rot: -90});

txt(570.5, 1001.8, 'E', 28, {bold: true});
txt(609.7, 1001.1, 'Onset of 2M-selective activity:', T);
txt(606.7, 1035.1, 'cumulative fractions of 2MS and RNS cells', T);
txt(587.1, 1288, 'percentage of cells', 24, {align: 'center', rot: -90});
txt(1078.8, 1553.4, 'time from movement onset [s]', 24, {align: 'center'});
block(683.5, 1105.7, 352.6, 69.2, {border: (2 * K) + 'px solid #111'});
[[1124.6, 'PMd:', DRED], [1156.7, 'pre\u2212SMA:', GREEN]].forEach(r => {
  txt(795, r[0], r[1], 24, {align: 'right'});
  block(820.5, r[0] - 3, 36.2, 6, {background: r[2]});
  txt(862.7, r[0], '2MS', 24);
  block(933.5, r[0] - 0.9, 36.1, 1.8, {background: r[2]});
  txt(977, r[0], 'RNS', 24);
});
</script>
</body>
</html>
